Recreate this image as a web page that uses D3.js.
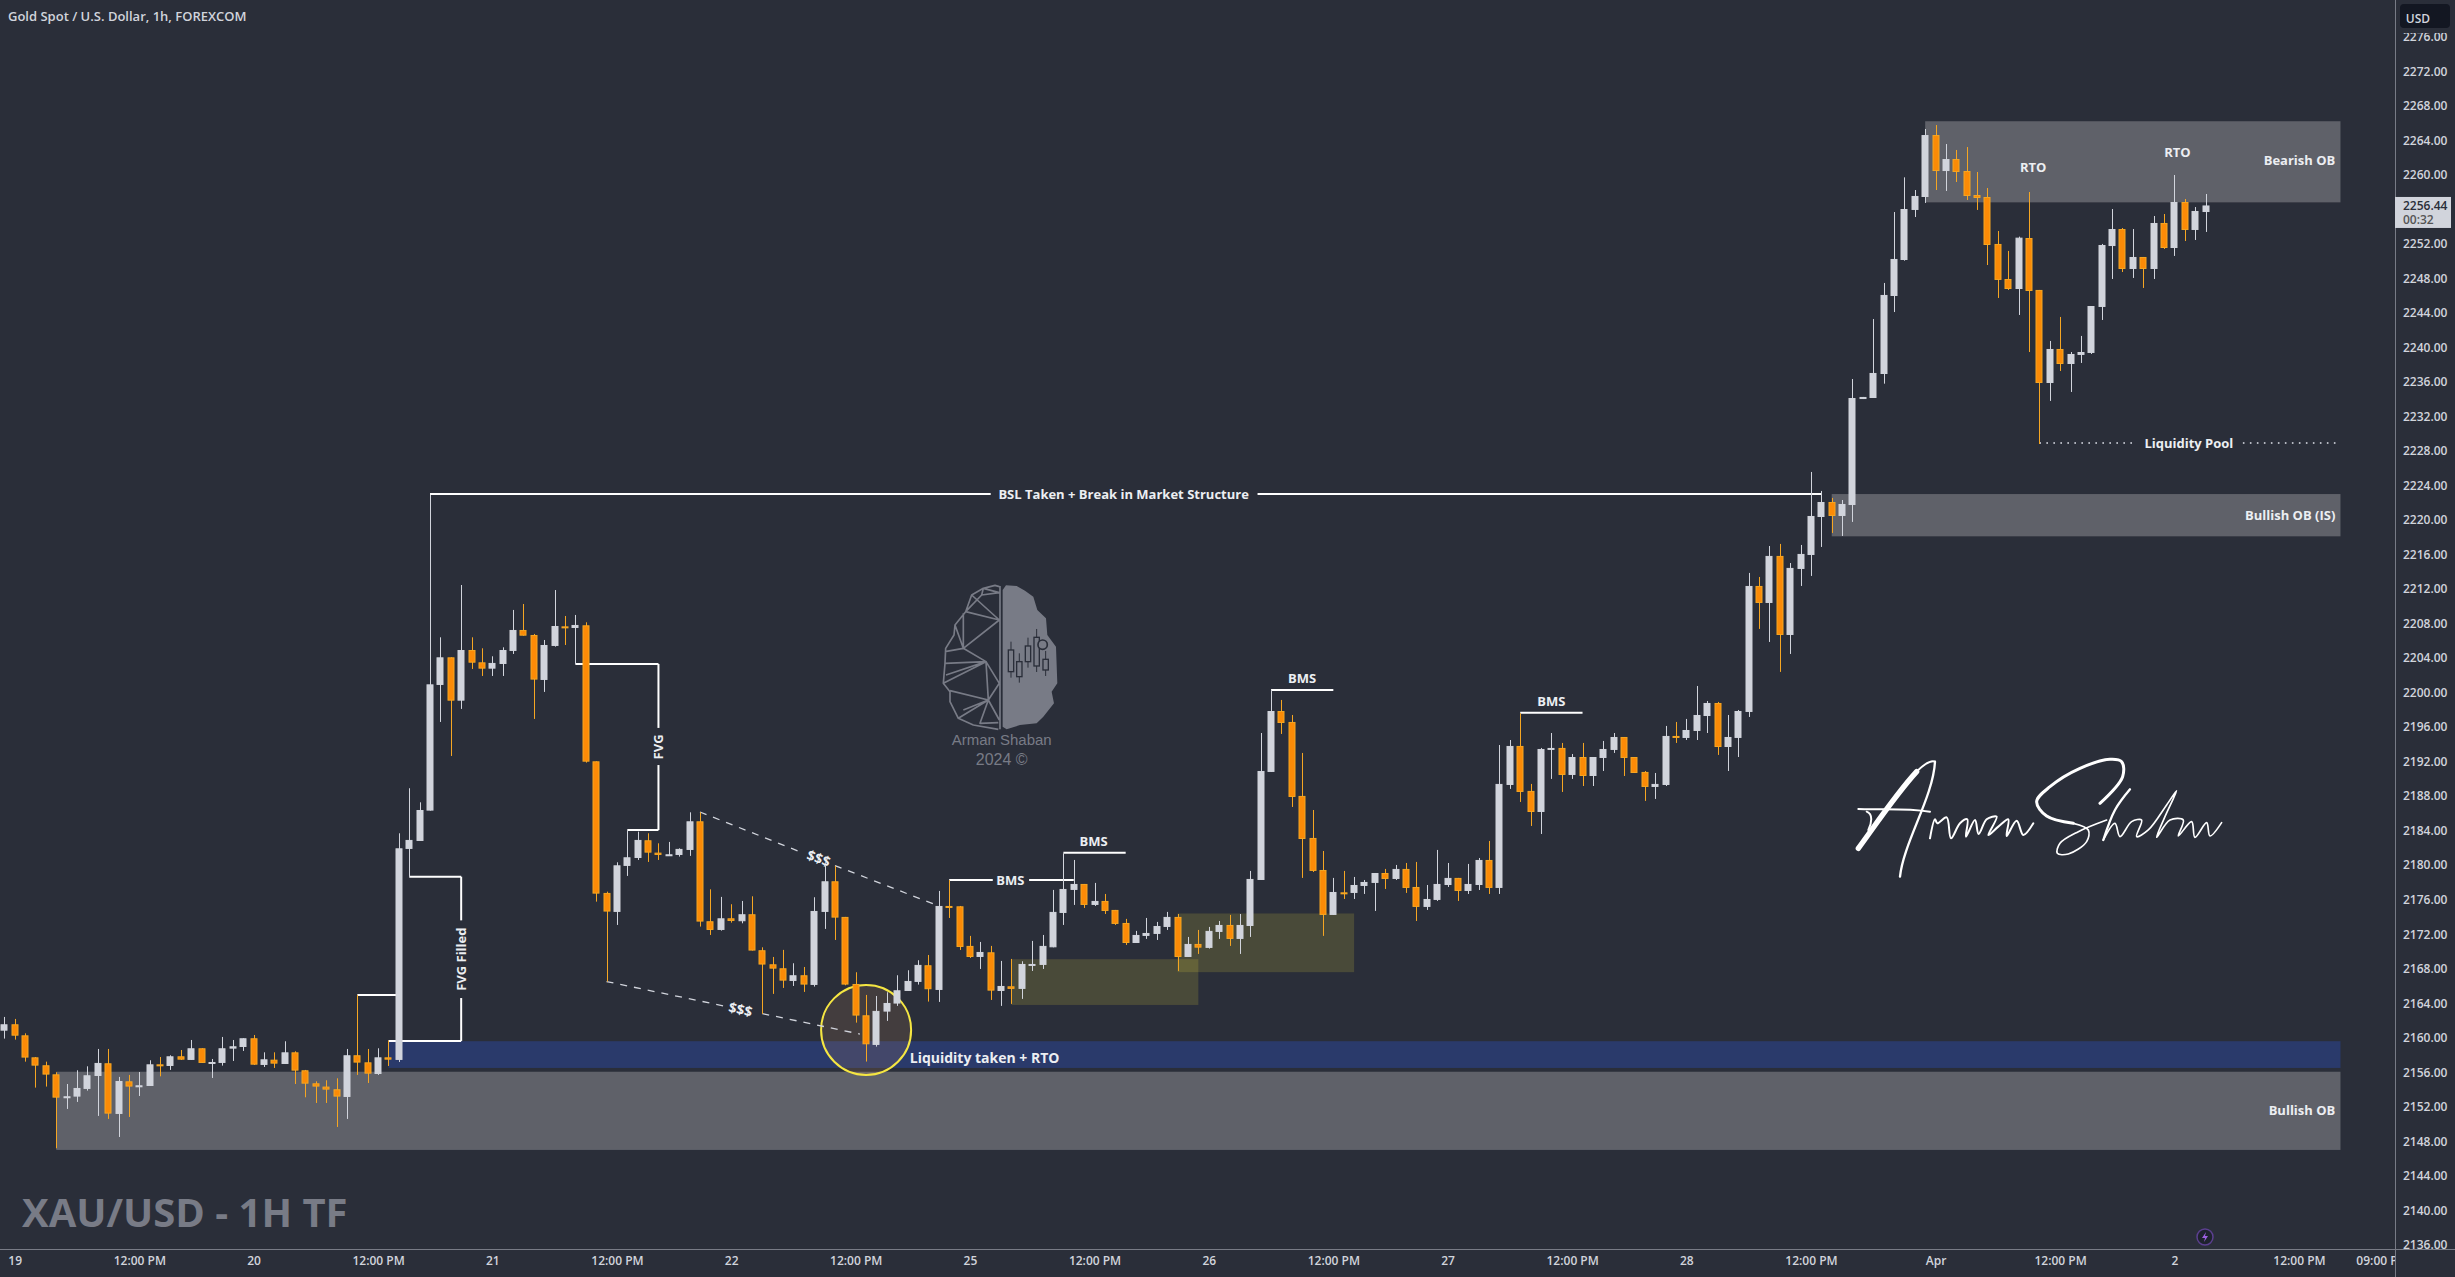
<!DOCTYPE html>
<html><head><meta charset="utf-8">
<script src="https://cdnjs.cloudflare.com/ajax/libs/d3/7.8.5/d3.min.js"></script>
<style>html,body{margin:0;background:#2a2e39;overflow:hidden}svg{display:block}
text{font-family:"Open Sans","Noto Sans",sans-serif}</style></head><body>
<svg id="c" width="2455" height="1277"></svg>
<script>
const opens=[2160.82,2161.56,2160.28,2157.73,2156.81,2155.76,2153.14,2153.18,2154.07,2155.57,2157.04,2151.17,2154.95,2154.34,2154.41,2156.92,2156.73,2157.85,2157.43,2158.78,2157.12,2157.08,2158.74,2158.93,2159.94,2156.85,2157.46,2156.96,2158.31,2156.23,2154.72,2154.34,2154.03,2153.14,2157.97,2157.15,2155.80,2157.73,2157.43,
2181.88,2182.80,2186.32,2200.88,2204.08,2199.06,2204.93,2203.50,2202.77,2203.31,2204.82,2207.25,2206.67,2201.46,2205.40,2207.67,2207.48,2207.79,2192.03,2176.78,2174.58,2179.91,2180.83,2182.88,2181.45,2181.18,2181.18,2181.76,2185.08,2173.50,2172.49,2173.84,2173.50,2174.31,2170.14,2168.51,2168.05,2166.58,2167.24,2166.12,2174.58,2178.13,
2174.00,2166.23,2162.60,2159.17,2163.03,2163.96,2165.42,2166.47,2168.40,2165.54,2175.27,2175.23,2170.64,2169.36,2169.90,2165.42,2165.96,2165.66,2168.47,2168.44,2170.48,2174.46,2177.13,2177.82,2175.39,2175.85,2174.81,2173.30,2170.98,2171.80,2172.03,2172.84,2174.00,2169.36,2170.87,2170.41,2172.26,2173.07,2171.45,2172.95,
2178.28,2190.80,2197.86,2196.59,2188.02,2183.15,2179.44,2174.23,2176.85,2176.78,2177.59,2177.94,2179.09,2178.40,2179.56,2177.47,2175.16,2175.97,2177.70,2178.52,2177.01,2177.70,2180.60,2177.36,2189.29,2193.81,2188.60,2186.16,2193.35,2193.58,2190.45,2192.53,2190.33,2192.42,2193.35,2194.85,2192.53,2190.80,2189.06,2189.29,2194.97,2194.74,2195.55,2197.28,2198.79,2193.69,2194.74,
2197.75,2212.35,2210.38,2215.83,2206.67,2214.32,2215.94,2220.34,2222.08,2220.46,2221.73,2234.01,2234.13,2236.91,2245.95,
2250.12,2255.92,2257.42,2264.60,2260.43,2261.82,2260.43,2257.65,2257.42,2251.98,2247.92,2246.76,2252.67,2246.65,2235.87,2239.81,2238.07,2239.12,2239.35,2244.68,2251.74,2253.71,2249.08,2250.47,2249.08,2254.41,2251.51,2256.84,2253.60,2255.68];
const highs=[2162.41,2162.18,2160.51,2157.77,2157.23,2156.00,2154.64,2156.23,2156.69,2158.70,2158.70,2155.46,2155.69,2156.03,2157.39,2157.77,2157.97,2158.58,2159.74,2158.78,2157.54,2160.09,2159.74,2159.94,2160.32,2158.31,2158.31,2159.59,2158.43,2156.27,2154.95,2155.07,2155.30,2158.70,2164.96,2158.70,2158.78,2159.67,2183.69,
2188.91,2187.28,2222.89,2206.40,2204.08,2212.46,2206.40,2205.13,2204.20,2205.24,2209.57,2210.26,2206.79,2206.09,2211.88,2208.87,2208.99,2208.14,2192.03,2176.93,2180.33,2184.00,2183.88,2183.69,2182.53,2182.69,2181.95,2186.12,2186.12,2177.20,2176.32,2175.47,2175.85,2176.39,2170.48,2169.36,2170.18,2168.63,2168.20,2176.28,2179.91,2179.91,
2174.00,2167.59,2164.96,2164.84,2165.27,2167.24,2167.82,2168.98,2169.59,2177.01,2178.28,2175.27,2171.80,2171.10,2170.64,2168.90,2169.13,2168.86,2171.22,2171.91,2177.13,2181.37,2180.60,2177.82,2177.94,2176.66,2174.81,2173.77,2172.38,2173.88,2173.42,2174.58,2174.34,2171.68,2172.49,2172.84,2173.53,2174.23,2174.34,2179.33,
2195.31,2200.30,2199.14,2197.40,2193.00,2186.39,2181.64,2178.52,2179.33,2178.63,2178.28,2179.09,2179.56,2180.02,2180.25,2180.37,2177.70,2181.76,2180.25,2178.52,2180.14,2180.83,2182.80,2193.92,2194.50,2197.59,2189.41,2193.58,2195.31,2194.16,2192.88,2194.16,2192.53,2194.39,2195.31,2194.85,2192.53,2190.91,2190.68,2196.13,2196.59,2196.94,2200.76,2199.02,2198.91,2197.40,2197.98,
2213.86,2213.39,2216.98,2217.22,2215.01,2217.10,2225.56,2223.36,2222.55,2222.31,2236.33,2234.25,2243.28,2247.46,2255.68,
2259.70,2258.23,2265.30,2265.76,2263.56,2262.87,2263.21,2260.32,2258.46,2253.48,2251.17,2252.83,2258.00,2246.65,2240.74,2243.52,2239.46,2241.32,2244.79,2251.98,2256.03,2253.83,2253.71,2250.47,2255.22,2255.45,2259.97,2257.19,2256.26,2257.77];
const lows=[2159.90,2159.78,2157.23,2154.22,2154.34,2147.19,2151.75,2152.56,2153.87,2150.94,2150.59,2148.50,2150.82,2153.25,2154.41,2155.53,2156.27,2157.43,2157.43,2157.08,2155.34,2156.77,2157.31,2158.47,2156.85,2156.61,2156.50,2156.96,2154.64,2153.10,2152.44,2152.44,2149.66,2150.59,2155.69,2154.76,2155.69,2156.73,2157.19,
2178.67,2182.80,2186.32,2196.59,2192.65,2198.10,2202.73,2201.92,2201.92,2201.92,2204.47,2206.59,2196.94,2200.07,2205.32,2205.51,2203.31,2191.88,2175.77,2166.51,2173.07,2178.75,2180.60,2180.37,2180.60,2181.10,2180.99,2181.07,2172.88,2171.91,2172.41,2173.34,2173.26,2170.10,2162.76,2165.08,2165.77,2166.00,2165.31,2165.93,2172.61,2171.33,
2166.08,2161.75,2157.24,2158.97,2161.95,2163.69,2165.42,2166.16,2164.19,2164.15,2173.88,2170.17,2169.25,2167.97,2164.38,2163.69,2163.92,2164.50,2167.74,2167.97,2170.48,2173.07,2175.39,2175.04,2175.27,2174.34,2173.07,2170.75,2170.98,2171.45,2171.33,2172.49,2167.74,2169.36,2169.71,2170.33,2171.45,2170.64,2169.71,2171.68,
2178.28,2190.80,2195.20,2186.74,2178.52,2179.21,2171.80,2174.23,2176.08,2176.08,2176.66,2174.69,2177.24,2178.28,2176.78,2173.53,2174.81,2175.85,2177.47,2175.85,2176.66,2177.12,2176.66,2176.66,2188.83,2187.32,2184.54,2183.61,2189.99,2188.48,2189.99,2189.17,2189.17,2190.91,2193.00,2190.33,2190.68,2187.44,2187.67,2189.17,2194.16,2194.50,2194.50,2195.31,2192.77,2190.91,2192.53,
2197.17,2207.37,2205.86,2202.39,2204.47,2212.35,2213.51,2216.87,2218.49,2218.14,2219.77,2234.01,2234.13,2235.79,2244.09,
2250.04,2255.10,2256.73,2258.23,2258.12,2259.16,2257.07,2255.92,2249.54,2245.72,2246.65,2243.75,2239.46,2228.80,2233.79,2237.26,2234.83,2238.19,2239.23,2243.17,2247.92,2248.73,2248.04,2246.88,2247.92,2251.40,2250.59,2252.32,2252.44,2253.37];
const closes=[2161.56,2160.24,2157.70,2156.77,2155.73,2153.06,2153.22,2154.18,2155.65,2157.08,2151.21,2154.99,2154.34,2154.49,2156.92,2156.77,2157.85,2157.46,2158.78,2157.08,2157.19,2158.78,2159.01,2159.94,2156.88,2157.50,2157.00,2158.31,2156.19,2154.68,2154.34,2153.99,2153.18,2157.97,2157.12,2155.84,2157.73,2157.46,2181.95,
2182.92,2186.39,2200.95,2204.08,2199.06,2204.93,2203.46,2202.77,2203.43,2204.93,2207.25,2206.59,2201.50,2205.51,2207.71,2207.52,2207.83,2191.99,2176.70,2174.62,2179.98,2180.91,2182.92,2181.45,2181.18,2181.26,2181.88,2185.08,2173.46,2172.49,2173.84,2173.53,2174.31,2170.10,2168.48,2168.01,2166.62,2167.24,2166.16,2174.69,2178.13,2173.92,
2166.16,2162.57,2159.24,2163.11,2164.03,2165.50,2166.58,2168.44,2165.62,2175.27,2175.16,2170.52,2169.36,2169.94,2165.46,2166.00,2165.66,2168.55,2168.55,2170.64,2174.58,2177.24,2177.82,2175.39,2175.85,2174.69,2173.19,2170.98,2171.91,2172.14,2172.95,2174.00,2169.36,2170.87,2170.44,2172.38,2173.07,2171.45,2173.07,2178.40,
2190.91,2197.86,2196.47,2187.90,2183.03,2179.33,2174.23,2176.89,2176.78,2177.70,2178.05,2179.09,2178.40,2179.56,2177.36,2175.16,2176.08,2177.82,2178.52,2177.01,2177.82,2180.60,2177.36,2189.41,2193.81,2188.48,2186.16,2193.46,2193.58,2190.45,2192.53,2190.33,2192.53,2193.46,2194.85,2192.42,2190.68,2189.06,2189.41,2194.97,2194.85,2195.66,2197.40,2198.79,2193.69,2194.85,2197.86,
2212.35,2210.38,2215.83,2206.67,2214.44,2216.06,2220.46,2222.08,2220.46,2221.85,2234.13,2234.25,2237.03,2246.07,2250.24,
2256.03,2257.54,2264.60,2260.43,2261.82,2260.32,2257.54,2257.31,2251.86,2247.81,2246.76,2252.71,2246.53,2235.87,2239.81,2238.07,2239.23,2239.46,2244.79,2251.86,2253.71,2249.08,2250.47,2249.08,2254.41,2251.51,2256.84,2253.60,2255.80,2256.44];

const priceTicks=d3.range(2136,2277,4);
const timeTickIdx=[1,13,24,36,47,59,70,82,93,105,116,128,139,151,162,174,186,198,209,221,229];
const timeTickLabels=["19","12:00 PM","20","12:00 PM","21","12:00 PM","22","12:00 PM","25","12:00 PM","26","12:00 PM","27","12:00 PM","28","12:00 PM","Apr","12:00 PM","2","12:00 PM","09:00 PM"];
const titleText="Gold Spot / U.S. Dollar, 1h, FOREXCOM";
const watermark="XAU/USD - 1H TF";
const lastPrice=2256.44, countdown="00:32";

// [firstBar, lastBar, topPrice, bottomPrice, kind]
const zones=[[5,225,2156.06,2147.0,"grey"],[37,225,2159.6,2156.5,"blue"],[176,225,2223,2218.1,"grey"],[185,225,2266.2,2256.8,"grey"],[97,115,2169.1,2163.8,"olive"],[113,130,2174.4,2167.6,"olive"]];
// [bar0, price0, bar1, price1]
const solidLines=[[41,2223,95,2223],[120.7,2223,175,2223],
[39,2178.66,44,2178.66],[44,2178.66,44,2173.6],[44,2164.6,44,2159.62],[37,2159.62,44,2159.62],[34,2164.95,38,2164.95],
[55,2203.31,63,2203.31],[63,2203.31,63,2195.9],[63,2191.6,63,2184.07],[60,2184.07,63,2184.07],
[91,2178.28,95.2,2178.28],[98.7,2178.28,103,2178.28],[102,2181.44,108,2181.44],[122,2200.29,128,2200.29],[146,2197.66,152,2197.66]];
const dashedLines=[[67,2186.16,76.4,2181.66],[80,2179.95,90,2175.27],[58,2166.51,69.4,2163.66],[73,2162.8,82.4,2160.43]];
const dottedLines=[[196,2228.92,205.1,2228.92],[215.6,2228.92,225,2228.92]];
// [text, bar, price, anchor, rotation, size]
const labels=[["BSL Taken + Break in Market Structure",107.8,2223,"middle",0,13],
["FVG Filled",44,2169.1,"middle",-90,13],["FVG",63,2193.7,"middle",-90,13],
["$$$",78.46,2180.83,"middle",20,14],["$$$",70.92,2163.33,"middle",13,14],
["BMS",96.9,2178.28,"middle",0,13],["BMS",104.9,2182.8,"middle",0,13],["BMS",125,2201.7,"middle",0,13],["BMS",149,2199,"middle",0,13],
["Liquidity taken + RTO",87.2,2157.69,"start",0,14],
["Bullish OB",224.5,2151.6,"end",0,13],["Bullish OB (IS)",224.5,2220.6,"end",0,13],["Bearish OB",224.5,2261.7,"end",0,13],
["RTO",195.4,2260.9,"middle",0,13],["RTO",209.3,2262.6,"middle",0,13],["Liquidity Pool",210.4,2228.92,"middle",0,13]];
const circleSpot={bar:83,price:2160.9,r:45};

const W=2455,H=1277,plotR=2395,plotB=1249;
const x=d3.scaleLinear().domain([0,212]).range([4.33,2205.5]);
const y=d3.scaleLinear().domain([2276,2136]).range([36.66,1244.86]);
const svg=d3.select("#c");
svg.append("rect").attr("width",W).attr("height",H).attr("fill","#2a2e39");
const defs=svg.append("defs");
defs.append("clipPath").attr("id","plot").append("rect").attr("width",plotR).attr("height",plotB);
defs.append("clipPath").attr("id","tb").append("rect").attr("width",plotR).attr("height",H);
const plot=svg.append("g").attr("clip-path","url(#plot)");

// brain logo + signature (decoration, drawn in crop pixels)
const logo=plot.append("g").attr("transform","translate(900,560) scale(.3333)");
logo.append("path").attr("fill","#787b86").attr("d","M308 90L318 76L350 78L375 92L400 110L412 150L438 175L442 225L468 260L472 370L455 395L462 430L430 470L410 490L360 495L320 508L308 500Z");
[[333,270,65],[358,305,45],[384,258,47],[410,232,86],[437,298,32]].forEach(([cx,t,h])=>{
 logo.append("line").attr("x1",cx).attr("x2",cx).attr("y1",t-25).attr("y2",t+h+18).attr("stroke","#2a2e39").attr("stroke-width",3);
 logo.append("rect").attr("x",cx-8).attr("y",t).attr("width",16).attr("height",h).attr("fill","#787b86").attr("stroke","#2a2e39").attr("stroke-width",4);
});
logo.append("circle").attr("cx",428).attr("cy",254).attr("r",14).attr("fill","#787b86").attr("stroke","#2a2e39").attr("stroke-width",5);
logo.append("path").attr("fill","none").attr("stroke","#787b86").attr("stroke-width",5).attr("stroke-linejoin","round").attr("d",
"M300 78V508M298 80L285 76L250 85L215 105L197 155L165 195L162 225L137 265L135 310L130 370L150 395L150 425L175 475L220 495L295 508M298 98L250 85L245 105L298 98M245 105L197 155L298 180L215 105M190 160V265L165 195M298 180L190 265L135 275M190 265L258 305L135 310M138 345L258 305L130 370M258 305L298 370L265 420L258 305M150 392L265 420L298 480M265 420L175 475M265 420L190 450M265 420L240 490L295 488");
logo.append("text").attr("x",305).attr("y",556).attr("text-anchor","middle").attr("font-size",45).attr("fill","#787b86").style("font-family","'Liberation Sans Narrow','Liberation Sans'").text("Arman Shaban");
logo.append("text").attr("x",305).attr("y",615).attr("text-anchor","middle").attr("font-size",48).attr("fill","#787b86").style("font-family","'Liberation Sans Narrow','Liberation Sans'").text("2024 ©");

const sig=plot.append("g").attr("transform","translate(1820,730) scale(.3333)").attr("fill","none").attr("stroke","#fff").attr("stroke-linecap","round").attr("stroke-linejoin","round");
const sp=d3.line().curve(d3.curveCatmullRom.alpha(.5));
sig.append("path").attr("stroke-width",16).attr("d","M115 355C170 280 230 190 290 125");
sig.append("path").attr("stroke-width",6).attr("d","M290 125C310 105 330 90 345 95");
sig.append("path").attr("stroke-width",7).attr("d","M345 95C340 200 250 340 240 440");
sig.append("path").attr("stroke-width",6).attr("d","M115 237C170 240 250 233 330 245M140 245C160 252 155 280 145 300");
sig.append("path").attr("stroke-width",6).attr("d",sp([[330,325],[345,268],[352,280],[380,262],[393,325],[420,280],[442,268],[438,320],[465,270],[476,312],[500,268],[530,260],[505,315],[535,290],[565,268],[560,318],[590,272],[610,315],[640,280]]));
sig.append("path").attr("stroke-width",9).attr("d",sp([[840,220],[908,140],[905,95],[870,88],[780,115],[690,170],[650,215],[680,258],[760,280]]));
sig.append("path").attr("stroke-width",5).attr("d",sp([[760,280],[805,300],[800,335],[745,372],[712,370],[720,340],[775,305],[860,270]]));
sig.append("path").attr("stroke-width",7).attr("d",sp([[930,178],[885,240],[850,330]]));
sig.append("path").attr("stroke-width",5).attr("d",sp([[850,330],[885,280],[900,320],[935,275],[965,270],[950,320],[985,300],[1040,225],[1070,182],[1035,260],[1010,322],[1050,270],[1090,270],[1075,318],[1115,275],[1125,322],[1160,278],[1170,318],[1205,278]]));

// zones
const zoneFill={grey:"#5f6169",blue:"#2a3a6b",olive:"rgba(255,235,59,.15)"};
plot.append("g").selectAll("rect").data(zones).join("rect")
 .attr("x",d=>x(d[0])).attr("width",d=>x(d[1])-x(d[0])).attr("y",d=>y(d[2])).attr("height",d=>y(d[3])-y(d[2])).attr("fill",d=>zoneFill[d[4]]);
plot.append("circle").attr("cx",x(circleSpot.bar)).attr("cy",y(circleSpot.price)).attr("r",circleSpot.r)
 .attr("fill","rgba(255,170,100,.12)").attr("stroke","#f5e642").attr("stroke-width",2);

// annotation lines
const seg=(g,data,col,w,dash)=>g.append("g").selectAll("line").data(data).join("line")
 .attr("x1",d=>x(d[0])).attr("y1",d=>y(d[1])).attr("x2",d=>x(d[2])).attr("y2",d=>y(d[3]))
 .attr("stroke",col).attr("stroke-width",w).attr("stroke-dasharray",dash||null);
seg(plot,solidLines,"#ffffff",2);
seg(plot,dashedLines,"#d1d4dc",1.3,"7 7");
seg(plot,dottedLines,"#e0e3eb",1.6,"1.6 5.4");

// candles
const n=closes.length, idx=d3.range(n), up="#d1d4dc", downFill="#fb8b07", downEdge="#f5a623";
const col=i=>closes[i]>=opens[i]?up:downEdge;
const cg=plot.append("g");
cg.append("g").selectAll("line").data(idx).join("line")
 .attr("x1",i=>Math.round(x(i))+.5).attr("x2",i=>Math.round(x(i))+.5)
 .attr("y1",i=>y(highs[i])).attr("y2",i=>y(lows[i])).attr("stroke",col).attr("stroke-width",1);
cg.append("g").selectAll("rect").data(idx).join("rect")
 .attr("x",i=>Math.round(x(i))-3).attr("width",6)
 .attr("y",i=>y(Math.max(opens[i],closes[i]))+.5)
 .attr("height",i=>Math.max(1,y(Math.min(opens[i],closes[i]))-y(Math.max(opens[i],closes[i]))-1))
 .attr("fill",i=>closes[i]>=opens[i]?up:downFill).attr("stroke",col).attr("stroke-width",1);

// labels
plot.append("g").selectAll("text").data(labels).join("text").text(d=>d[0])
 .attr("transform",d=>`translate(${x(d[1])},${y(d[2])}) rotate(${d[4]})`)
 .attr("text-anchor",d=>d[3]).attr("dominant-baseline","central")
 .attr("font-size",d=>d[5]).attr("font-weight",700).attr("fill","#eceef2");

plot.append("text").attr("x",22).attr("y",1227).attr("font-size",40).attr("font-weight",700).attr("fill","#787b86").text(watermark);
svg.append("text").attr("x",8).attr("y",21).attr("font-size",13).attr("font-weight",600).attr("fill","#d1d4dc").text(titleText);

// axes
const yAxis=d3.axisRight(y).tickValues(priceTicks).tickFormat(d3.format(".2f")).tickSize(0).tickPadding(0);
const yg=svg.append("g").attr("transform",`translate(${plotR+8},0)`).call(yAxis);
yg.select(".domain").remove();
yg.selectAll("text").attr("font-size",12).attr("font-weight",600).attr("fill","#d1d4dc").style("font-family",'"Open Sans"');
const xAxis=d3.axisBottom(x).tickValues(timeTickIdx).tickFormat((d,i)=>timeTickLabels[i]).tickSize(0).tickPadding(0);
const xg=svg.append("g").attr("transform",`translate(0,${plotB+7})`).attr("clip-path","url(#tb)").call(xAxis);
xg.select(".domain").remove();
xg.selectAll("text").attr("font-size",12).attr("font-weight",600).attr("fill","#d1d4dc").style("font-family",'"Open Sans"');

svg.append("rect").attr("x",plotR).attr("y",1249).attr("width",1).attr("height",28).attr("fill","#787b86");
svg.append("line").attr("x1",plotR+.5).attr("x2",plotR+.5).attr("y1",0).attr("y2",H).attr("stroke","#787b86");
svg.append("line").attr("x1",0).attr("x2",W).attr("y1",plotB+.5).attr("y2",plotB+.5).attr("stroke","#787b86");

// USD badge
svg.append("rect").attr("x",plotR+1).attr("y",0).attr("width",60).attr("height",33).attr("fill","#2a2e39");
svg.append("rect").attr("x",2400).attr("y",4).attr("width",50).attr("height",24).attr("rx",4).attr("fill","#131722");
svg.append("text").attr("x",2418).attr("y",18).attr("text-anchor","middle").attr("dominant-baseline","central").attr("font-size",12).attr("font-weight",600).attr("fill","#d1d4dc").text("USD");

// last price tag
const ly=y(lastPrice);
svg.append("rect").attr("x",plotR).attr("y",ly-8.5).attr("width",56).attr("height",31).attr("fill","#d1d4dc");
svg.append("text").attr("x",2403).attr("y",ly).attr("dominant-baseline","central").attr("font-size",12).attr("font-weight",600).attr("fill","#2a2e39").text(d3.format(".2f")(lastPrice));
svg.append("text").attr("x",2403).attr("y",ly+14).attr("dominant-baseline","central").attr("font-size",12).attr("font-weight",600).attr("fill","#555").text(countdown);

// lightning badge
const bolt=svg.append("g").attr("transform","translate(2205,1237)");
bolt.append("circle").attr("r",8).attr("fill","#1e222d").attr("stroke","#5b3f8f").attr("stroke-width",1.5);
bolt.append("path").attr("d","M1-5L-3 1H0L-1 5L3-1H0Z").attr("fill","#9c5fe0");
</script></body></html>
